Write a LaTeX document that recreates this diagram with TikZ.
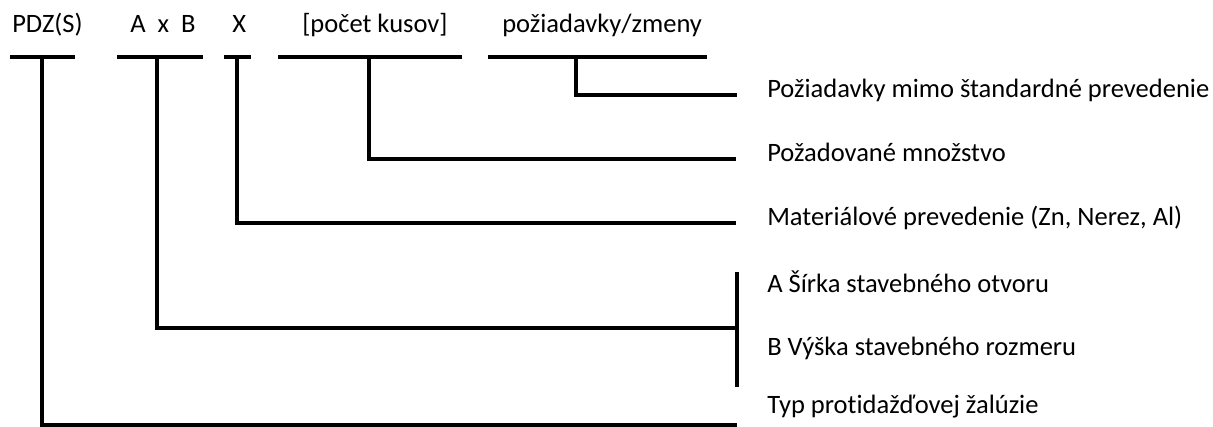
\documentclass[tikz,border=0pt]{standalone}
\usepackage{fontspec}
\setmainfont{Carlito}[Ligatures=NoCommon]
\begin{document}
\begin{tikzpicture}[x=0.75pt,y=-0.75pt,
    every node/.style={inner sep=0pt,anchor=base west,font=\fontsize{19.9}{24}\selectfont},
    bar/.style={line width=2.4pt}]
  \useasboundingbox (0,0) rectangle (1213,427);
  % code parts
  \draw
    (12,33) node (pdz){PDZ(S)}
    (130,33) node (axb){A\ \ x\ \ B}
    (232,33) node (mat){X}
    (302,33) node (ks){[počet kusov]}
    (502,33) node (poz){požiadavky/zmeny};
  % descriptions
  \draw
    (767,98) node (dpoz){Požiadavky mimo štandardné prevedenie}
    (767,162) node (dks){Požadované množstvo}
    (767,226) node (dmat){Materiálové prevedenie (Zn, Nerez, Al)}
    (767,293) node (da){A Šírka stavebného otvoru}
    (767,355) node (db){B Výška stavebného rozmeru}
    (767,413) node (dpdz){Typ protidažďovej žalúzie};
  % bars under the parts
  \coordinate (l1) at (10,57);  \coordinate (r1) at (75,57);  \coordinate (t1) at (42,57);
  \coordinate (l2) at (117,57); \coordinate (r2) at (203,57); \coordinate (t2) at (157,57);
  \coordinate (l3) at (224,57); \coordinate (r3) at (251,57); \coordinate (t3) at (237,57);
  \coordinate (l4) at (278,57); \coordinate (r4) at (462,57); \coordinate (t4) at (369,57);
  \coordinate (l5) at (488,57); \coordinate (r5) at (707,57); \coordinate (t5) at (576,57);
  % ends at the descriptions
  \coordinate (e1) at (737,425);
  \coordinate (e2) at (737,328);
  \coordinate (e3) at (736,223);
  \coordinate (e4) at (736,159);
  \coordinate (e5) at (737,95);
  \coordinate (ba) at (737,272);
  \coordinate (bb) at (737,387);
  \begin{scope}[bar]
    \draw (l1) to (r1);
    \draw (l2) to (r2);
    \draw (l3) to (r3);
    \draw (l4) to (r4);
    \draw (l5) to (r5);
    \draw (t1) |- (e1);
    \draw (t2) |- (e2);
    \draw (t3) |- (e3);
    \draw (t4) |- (e4);
    \draw (t5) |- (e5);
    \draw (ba) to (bb);
  \end{scope}
\end{tikzpicture}
\end{document}
